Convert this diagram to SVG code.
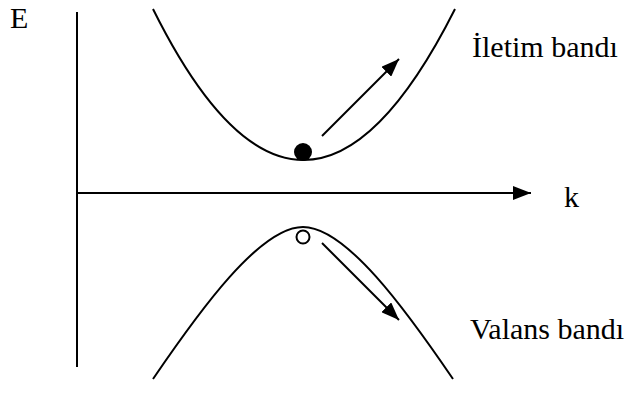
<svg xmlns="http://www.w3.org/2000/svg" width="629" height="396" viewBox="0 0 629 396">
<style>
.ln{fill:none;stroke:#000;stroke-width:2}
.t{font-family:"Liberation Serif","Times New Roman",Times,"DejaVu Serif","Noto Serif",serif;font-size:30px;fill:#000}
</style>
<defs>
<marker id="ah" viewBox="0 0 18 14" refX="18" refY="7" markerWidth="18" markerHeight="14" markerUnits="userSpaceOnUse" orient="auto">
<path d="M0,0 L18,7 L0,14 Z" fill="#000"/>
</marker>
</defs>
<rect width="629" height="396" fill="#fff"/>
<g id="connectors">
<line id="e-axis" class="ln" x1="77" y1="12" x2="77" y2="367"/>
<line id="k-axis" class="ln" x1="77" y1="193" x2="531" y2="193" marker-end="url(#ah)"/>
<line id="arrow-up" class="ln" x1="322" y1="136" x2="399" y2="59" marker-end="url(#ah)"/>
<line id="arrow-down" class="ln" x1="322" y1="243" x2="399" y2="320" marker-end="url(#ah)"/>
</g>
<g id="conduction-band">
<path class="ln" d="M153,9 Q303,311 455,9"/>
<text class="t" x="472" y="57">İletim bandı</text>
</g>
<g id="valence-band">
<path class="ln" d="M153,379 C200,310 260,227 303,227 C346,227 406,310 453,379"/>
<text class="t" x="470" y="339">Valans bandı</text>
</g>
<g id="electron"><circle cx="303" cy="152" r="9" fill="#000"/></g>
<g id="hole"><circle cx="303" cy="237" r="6.5" fill="#fff" stroke="#000" stroke-width="2"/></g>
<g id="label-E"><text class="t" x="10" y="28">E</text></g>
<g id="label-k"><text class="t" x="564" y="207">k</text></g>
</svg>
